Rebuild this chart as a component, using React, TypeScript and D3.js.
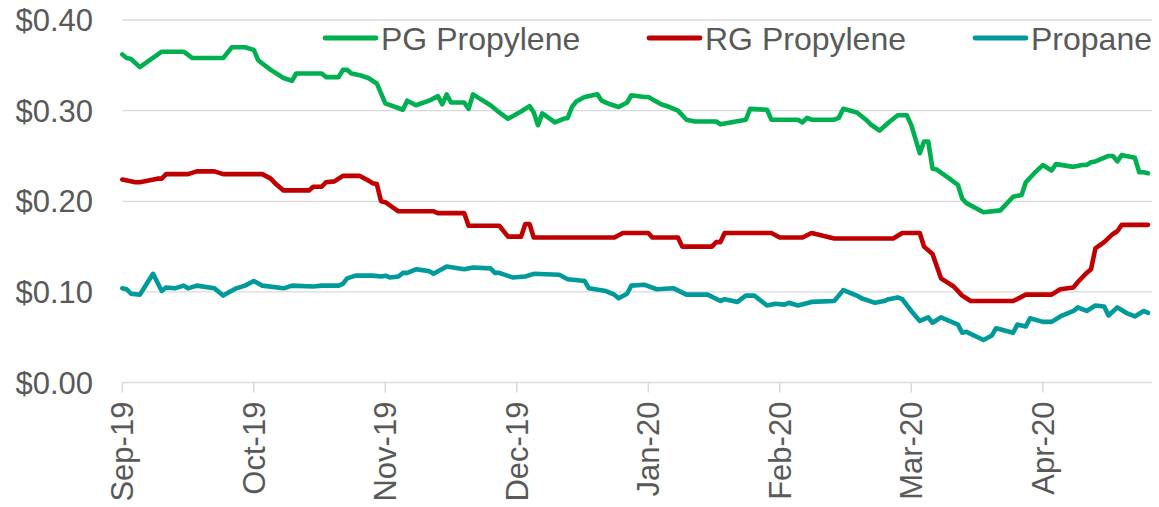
import React from "react";
import * as d3 from "d3";

// month starts used for the x axis (evenly spaced, like the source chart)
const monthStarts = [
  "2019-09-01", "2019-10-01", "2019-11-01", "2019-12-01",
  "2020-01-01", "2020-02-01", "2020-03-01", "2020-04-01", "2020-05-01",
];

const yTicks = [0, 0.1, 0.2, 0.3, 0.4];

// [date, $/lb] vertices
const pgPropylene: [string, number][] = [
  ["2019-09-01", 0.362], ["2019-09-02", 0.358], ["2019-09-03", 0.357], ["2019-09-05", 0.348],
  ["2019-09-10", 0.365], ["2019-09-15", 0.365], ["2019-09-17", 0.358], ["2019-09-24", 0.358],
  ["2019-09-26", 0.37], ["2019-09-29", 0.37], ["2019-10-01", 0.367], ["2019-10-02", 0.356],
  ["2019-10-03", 0.352], ["2019-10-05", 0.345], ["2019-10-08", 0.336], ["2019-10-10", 0.333],
  ["2019-10-11", 0.341], ["2019-10-17", 0.341], ["2019-10-18", 0.337], ["2019-10-21", 0.337],
  ["2019-10-22", 0.345], ["2019-10-23", 0.345], ["2019-10-24", 0.341], ["2019-10-26", 0.339],
  ["2019-10-28", 0.336], ["2019-10-30", 0.33], ["2019-10-31", 0.319], ["2019-11-01", 0.308],
  ["2019-11-05", 0.301], ["2019-11-06", 0.311], ["2019-11-08", 0.306], ["2019-11-11", 0.311],
  ["2019-11-13", 0.316], ["2019-11-14", 0.307], ["2019-11-15", 0.318], ["2019-11-16", 0.309],
  ["2019-11-19", 0.309], ["2019-11-20", 0.302], ["2019-11-21", 0.318], ["2019-11-25", 0.306],
  ["2019-11-27", 0.298], ["2019-11-29", 0.291], ["2019-12-02", 0.299], ["2019-12-04", 0.305],
  ["2019-12-05", 0.298], ["2019-12-06", 0.284], ["2019-12-07", 0.297], ["2019-12-10", 0.287],
  ["2019-12-12", 0.291], ["2019-12-13", 0.292], ["2019-12-14", 0.304], ["2019-12-15", 0.31],
  ["2019-12-17", 0.315], ["2019-12-20", 0.318], ["2019-12-21", 0.311], ["2019-12-23", 0.307],
  ["2019-12-25", 0.304], ["2019-12-27", 0.309], ["2019-12-28", 0.317], ["2019-12-31", 0.315],
  ["2020-01-01", 0.315], ["2020-01-04", 0.307], ["2020-01-06", 0.304], ["2020-01-08", 0.3],
  ["2020-01-10", 0.29], ["2020-01-12", 0.288], ["2020-01-17", 0.288], ["2020-01-18", 0.285],
  ["2020-01-24", 0.29], ["2020-01-25", 0.302], ["2020-01-29", 0.301], ["2020-01-30", 0.29],
  ["2020-02-05", 0.29], ["2020-02-06", 0.287], ["2020-02-07", 0.292], ["2020-02-08", 0.29],
  ["2020-02-13", 0.29], ["2020-02-14", 0.292], ["2020-02-15", 0.302], ["2020-02-18", 0.298],
  ["2020-02-20", 0.29], ["2020-02-21", 0.285], ["2020-02-23", 0.278], ["2020-02-25", 0.287],
  ["2020-02-27", 0.295], ["2020-02-29", 0.295], ["2020-03-01", 0.284], ["2020-03-03", 0.253],
  ["2020-03-04", 0.266], ["2020-03-05", 0.266], ["2020-03-06", 0.236], ["2020-03-07", 0.235],
  ["2020-03-10", 0.225], ["2020-03-12", 0.218], ["2020-03-13", 0.203], ["2020-03-14", 0.198],
  ["2020-03-18", 0.188], ["2020-03-22", 0.19], ["2020-03-23", 0.195], ["2020-03-25", 0.205],
  ["2020-03-27", 0.207], ["2020-03-28", 0.221], ["2020-03-30", 0.231], ["2020-04-01", 0.24],
  ["2020-04-03", 0.234], ["2020-04-04", 0.241], ["2020-04-08", 0.238], ["2020-04-10", 0.24],
  ["2020-04-11", 0.24], ["2020-04-12", 0.243], ["2020-04-13", 0.244], ["2020-04-16", 0.25],
  ["2020-04-17", 0.25], ["2020-04-18", 0.244], ["2020-04-19", 0.251], ["2020-04-20", 0.25],
  ["2020-04-22", 0.248], ["2020-04-23", 0.232], ["2020-04-24", 0.232], ["2020-04-25", 0.231],
];

const rgPropylene: [string, number][] = [
  ["2019-09-01", 0.224], ["2019-09-04", 0.221], ["2019-09-05", 0.221], ["2019-09-09", 0.225],
  ["2019-09-10", 0.225], ["2019-09-11", 0.23], ["2019-09-16", 0.23], ["2019-09-18", 0.233],
  ["2019-09-22", 0.233], ["2019-09-24", 0.23], ["2019-10-03", 0.23], ["2019-10-05", 0.225],
  ["2019-10-06", 0.22], ["2019-10-08", 0.212], ["2019-10-14", 0.212], ["2019-10-15", 0.216],
  ["2019-10-17", 0.216], ["2019-10-18", 0.221], ["2019-10-20", 0.222], ["2019-10-22", 0.228],
  ["2019-10-26", 0.228], ["2019-10-28", 0.223], ["2019-10-29", 0.22], ["2019-10-30", 0.219],
  ["2019-10-31", 0.2], ["2019-11-01", 0.199], ["2019-11-04", 0.189], ["2019-11-12", 0.189],
  ["2019-11-13", 0.187], ["2019-11-19", 0.187], ["2019-11-20", 0.173], ["2019-11-27", 0.173],
  ["2019-11-29", 0.161], ["2019-12-02", 0.161], ["2019-12-03", 0.175], ["2019-12-04", 0.175],
  ["2019-12-05", 0.16], ["2019-12-24", 0.16], ["2019-12-26", 0.165], ["2020-01-01", 0.165],
  ["2020-01-02", 0.16], ["2020-01-08", 0.16], ["2020-01-09", 0.15], ["2020-01-16", 0.15],
  ["2020-01-17", 0.155], ["2020-01-18", 0.155], ["2020-01-19", 0.165], ["2020-01-30", 0.165],
  ["2020-02-01", 0.16], ["2020-02-06", 0.16], ["2020-02-08", 0.165], ["2020-02-13", 0.159],
  ["2020-02-26", 0.159], ["2020-02-28", 0.165], ["2020-03-03", 0.165], ["2020-03-04", 0.15],
  ["2020-03-06", 0.142], ["2020-03-08", 0.115], ["2020-03-11", 0.106], ["2020-03-13", 0.096],
  ["2020-03-15", 0.09], ["2020-03-25", 0.09], ["2020-03-28", 0.097], ["2020-04-03", 0.097],
  ["2020-04-05", 0.103], ["2020-04-08", 0.105], ["2020-04-09", 0.111], ["2020-04-11", 0.121],
  ["2020-04-12", 0.125], ["2020-04-13", 0.148], ["2020-04-15", 0.155], ["2020-04-17", 0.164],
  ["2020-04-18", 0.167], ["2020-04-19", 0.174], ["2020-04-25", 0.174],
];

const propane: [string, number][] = [
  ["2019-09-01", 0.104], ["2019-09-02", 0.103], ["2019-09-03", 0.098], ["2019-09-05", 0.097],
  ["2019-09-08", 0.12], ["2019-09-10", 0.101], ["2019-09-11", 0.105], ["2019-09-13", 0.104],
  ["2019-09-15", 0.107], ["2019-09-16", 0.104], ["2019-09-18", 0.107], ["2019-09-22", 0.104],
  ["2019-09-24", 0.096], ["2019-09-27", 0.104], ["2019-09-29", 0.107], ["2019-10-01", 0.112],
  ["2019-10-03", 0.107], ["2019-10-08", 0.104], ["2019-10-10", 0.107], ["2019-10-15", 0.106],
  ["2019-10-17", 0.107], ["2019-10-21", 0.107], ["2019-10-22", 0.109], ["2019-10-23", 0.115],
  ["2019-10-25", 0.118], ["2019-10-29", 0.118], ["2019-10-31", 0.117], ["2019-11-01", 0.118],
  ["2019-11-02", 0.116], ["2019-11-04", 0.117], ["2019-11-05", 0.121], ["2019-11-06", 0.121],
  ["2019-11-08", 0.125], ["2019-11-11", 0.123], ["2019-11-12", 0.12], ["2019-11-15", 0.128],
  ["2019-11-19", 0.125], ["2019-11-21", 0.127], ["2019-11-25", 0.126], ["2019-11-26", 0.121],
  ["2019-11-27", 0.121], ["2019-11-30", 0.116], ["2019-12-03", 0.117], ["2019-12-05", 0.12],
  ["2019-12-11", 0.119], ["2019-12-13", 0.114], ["2019-12-17", 0.112], ["2019-12-18", 0.104],
  ["2019-12-22", 0.101], ["2019-12-24", 0.097], ["2019-12-25", 0.093], ["2019-12-27", 0.098],
  ["2019-12-28", 0.107], ["2019-12-31", 0.108], ["2020-01-03", 0.103], ["2020-01-07", 0.104],
  ["2020-01-10", 0.097], ["2020-01-15", 0.097], ["2020-01-18", 0.09], ["2020-01-19", 0.092],
  ["2020-01-22", 0.089], ["2020-01-24", 0.096], ["2020-01-26", 0.096], ["2020-01-29", 0.085],
  ["2020-01-31", 0.087], ["2020-02-02", 0.086], ["2020-02-03", 0.088], ["2020-02-05", 0.085],
  ["2020-02-08", 0.089], ["2020-02-13", 0.09], ["2020-02-15", 0.102], ["2020-02-18", 0.096],
  ["2020-02-19", 0.093], ["2020-02-22", 0.088], ["2020-02-24", 0.09], ["2020-02-25", 0.092],
  ["2020-02-27", 0.094], ["2020-02-28", 0.092], ["2020-03-01", 0.079], ["2020-03-03", 0.068],
  ["2020-03-05", 0.072], ["2020-03-06", 0.066], ["2020-03-08", 0.072], ["2020-03-12", 0.064],
  ["2020-03-13", 0.055], ["2020-03-14", 0.056], ["2020-03-18", 0.047], ["2020-03-20", 0.052],
  ["2020-03-21", 0.06], ["2020-03-25", 0.055], ["2020-03-26", 0.064], ["2020-03-28", 0.062],
  ["2020-03-29", 0.071], ["2020-04-01", 0.067], ["2020-04-03", 0.067], ["2020-04-05", 0.073],
  ["2020-04-08", 0.079], ["2020-04-09", 0.083], ["2020-04-11", 0.079], ["2020-04-13", 0.085],
  ["2020-04-15", 0.084], ["2020-04-16", 0.074], ["2020-04-18", 0.083], ["2020-04-20", 0.077],
  ["2020-04-22", 0.073], ["2020-04-24", 0.079], ["2020-04-25", 0.077],
];

const series = [
  { name: "PG Propylene", color: "#00B050", data: pgPropylene },
  { name: "RG Propylene", color: "#C00000", data: rgPropylene },
  { name: "Propane", color: "#009A9A", data: propane },
];

export default function App() {
  const width = 1159;
  const height = 507;
  const left = 122.3;
  const right = 1152;
  const top = 20;
  const bottom = 382.6;
  const monthW = 131.5;
  const font = "'Liberation Sans', Arial, sans-serif";
  const textColor = "#595959";
  const gridColor = "#d9d9d9";

  const parse = d3.utcParse("%Y-%m-%d");
  const fmt = d3.utcFormat("%b-%y");

  const x = d3
    .scaleUtc()
    .domain(monthStarts.map((d) => parse(d) as Date))
    .range(monthStarts.map((_, i) => left + i * monthW));

  const y = d3.scaleLinear().domain([0, 0.4]).range([bottom, top]);

  const line = d3
    .line<[string, number]>()
    .x((d) => x(parse(d[0]) as Date))
    .y((d) => y(d[1]));

  const tickDates = monthStarts.slice(0, -1).map((d) => parse(d) as Date);

  // legend slots: line start x
  const legendX = [323, 647, 973];
  const legendY = 38;

  return (
    <svg
      width={width}
      height={height}
      style={{ position: "absolute", left: 0, top: 0, background: "#fff" }}
      fontFamily={font}
    >
      {yTicks.map((t) => (
        <g key={t}>
          {t > 0 && (
            <line x1={left} x2={right} y1={y(t)} y2={y(t)} stroke={gridColor} strokeWidth={1.3} />
          )}
          <text
            x={93}
            y={y(t)}
            dy="0.36em"
            textAnchor="end"
            fontSize={31}
            fill={textColor}
          >
            {d3.format("$.2f")(t)}
          </text>
        </g>
      ))}

      <line x1={left} x2={right} y1={bottom} y2={bottom} stroke={gridColor} strokeWidth={1.5} />
      {tickDates.map((d) => (
        <g key={d.toISOString()} transform={`translate(${x(d)},0)`}>
          <line y1={bottom} y2={bottom + 10} stroke={gridColor} strokeWidth={1.5} />
          <text
            transform={`translate(0,${bottom + 19}) rotate(-90)`}
            dy="0.35em"
            textAnchor="end"
            fontSize={31}
            fill={textColor}
          >
            {fmt(d)}
          </text>
        </g>
      ))}

      {series.map((s) => (
        <path
          key={s.name}
          d={line(s.data) || ""}
          fill="none"
          stroke={s.color}
          strokeWidth={4.6}
          strokeLinejoin="round"
          strokeLinecap="round"
        />
      ))}

      {series.map((s, i) => (
        <g key={s.name} transform={`translate(${legendX[i]},${legendY})`}>
          <line x1={2} x2={53} stroke={s.color} strokeWidth={4.8} strokeLinecap="round" />
          <text x={58} dy="0.36em" fontSize={32} fill={textColor}>
            {s.name}
          </text>
        </g>
      ))}
    </svg>
  );
}
